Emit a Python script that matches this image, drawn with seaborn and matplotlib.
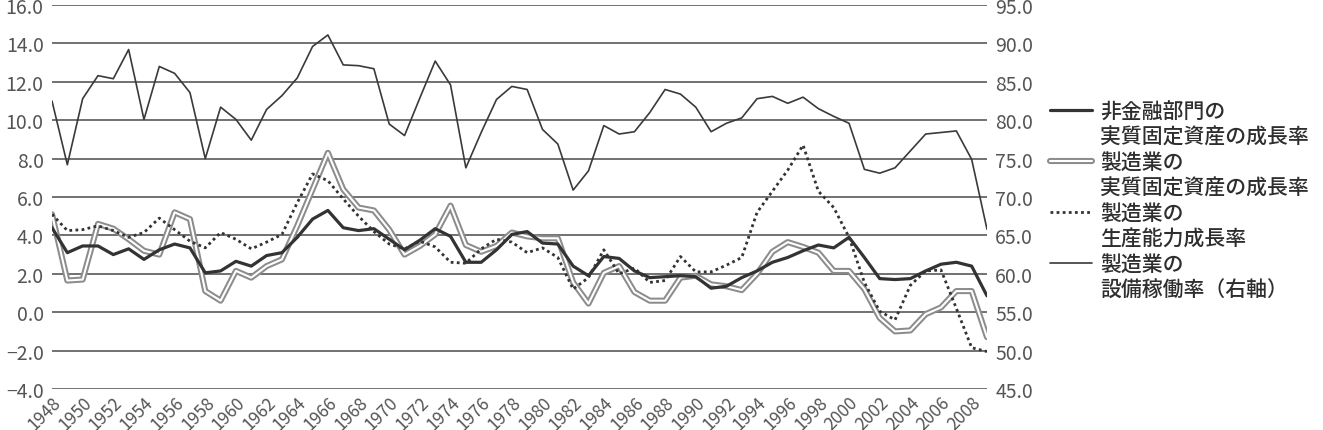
import numpy as np
import pandas as pd
import seaborn as sns
import matplotlib.pyplot as plt
import matplotlib.patheffects as pe
from matplotlib.lines import Line2D
from matplotlib.ticker import FuncFormatter

# 年次データ (1948-2009)
years = list(range(1948, 2010))

# 非金融部門の実質固定資産の成長率 (左軸)
nonfin_assets = [4.4, 3.1, 3.45, 3.45, 3.0, 3.3, 2.75, 3.25, 3.55, 3.35,
                 2.05, 2.15, 2.65, 2.4, 2.95, 3.1, 3.9, 4.85, 5.3, 4.4,
                 4.25, 4.35, 3.8, 3.25, 3.75, 4.35, 3.95, 2.6, 2.6, 3.25,
                 4.05, 4.2, 3.6, 3.55, 2.4, 1.9, 2.9, 2.8, 2.15, 1.8,
                 1.85, 1.9, 1.85, 1.25, 1.35, 1.8, 2.15, 2.6, 2.85, 3.2,
                 3.5, 3.35, 3.9, 2.85, 1.75, 1.7, 1.75, 2.15, 2.5, 2.6,
                 2.4, 0.85]

# 製造業の実質固定資産の成長率 (左軸)
mfg_assets = [5.1, 1.65, 1.7, 4.6, 4.35, 3.8, 3.2, 3.0, 5.2, 4.85,
              1.1, 0.6, 2.15, 1.8, 2.4, 2.75, 4.5, 6.4, 8.3, 6.4,
              5.45, 5.3, 4.3, 3.0, 3.45, 4.05, 5.55, 3.5, 3.15, 3.45,
              4.15, 3.95, 3.85, 3.85, 1.55, 0.45, 2.05, 2.4, 1.05, 0.6,
              0.6, 1.8, 1.9, 1.45, 1.35, 1.15, 2.0, 3.15, 3.65, 3.4,
              3.1, 2.15, 2.15, 1.2, -0.3, -1.0, -0.95, -0.1, 0.25, 1.1,
              1.1, -1.3]

# 製造業の生産能力成長率 (左軸)
mfg_capacity = [5.1, 4.25, 4.3, 4.5, 4.25, 3.9, 4.15, 4.9, 4.3, 3.7,
                3.35, 4.15, 3.8, 3.3, 3.65, 4.05, 5.7, 7.2, 6.85, 5.9,
                5.0, 4.2, 3.55, 3.3, 3.7, 3.4, 2.6, 2.55, 3.3, 3.8,
                3.65, 3.1, 3.35, 2.85, 1.2, 1.8, 3.25, 2.0, 2.3, 1.55,
                1.65, 2.9, 2.1, 2.1, 2.45, 2.85, 5.2, 6.3, 7.4, 8.7,
                6.3, 5.45, 3.9, 1.55, 0.05, -0.4, 1.4, 2.15, 2.2, 0.2,
                -1.85, -2.05]

# 製造業の設備稼働率 (右軸)
utilization = [82.5, 74.2, 82.8, 85.8, 85.4, 89.2, 80.1, 87.0, 86.1, 83.6,
               75.0, 81.7, 80.1, 77.4, 81.4, 83.2, 85.5, 89.6, 91.1, 87.2,
               87.1, 86.7, 79.5, 78.0, 82.9, 87.7, 84.6, 73.8, 78.4, 82.7,
               84.4, 84.0, 78.8, 76.9, 70.9, 73.4, 79.3, 78.2, 78.5, 81.0,
               84.0, 83.4, 81.7, 78.5, 79.6, 80.3, 82.8, 83.1, 82.2, 83.0,
               81.5, 80.5, 79.6, 73.6, 73.1, 73.8, 76.0, 78.2, 78.4, 78.6,
               74.9, 65.8]

labels = [['非金融部門の', '実質固定資産の成長率'],
          ['製造業の', '実質固定資産の成長率'],
          ['製造業の', '生産能力成長率'],
          ['製造業の', '設備稼働率（右軸）']]

df = pd.DataFrame({'year': years, 'nonfin': nonfin_assets, 'mfg_assets': mfg_assets,
                   'mfg_capacity': mfg_capacity, 'util': utilization})

sns.set_style('white')
plt.rcParams['font.family'] = ['Noto Sans CJK JP', 'DejaVu Sans']

text_color = '#555555'
grid_color = '#4a4a4a'

fig = plt.figure(figsize=(13.23, 4.31), dpi=100)
ax = fig.add_axes([52 / 1323, 41 / 431, 935 / 1323, 384 / 431])
ax2 = ax.twinx()

double_fx = [pe.Stroke(linewidth=4.4, foreground='#8c8c8c'), pe.Normal()]
styles = [dict(color='#333333', lw=2.3),
          dict(color='white', lw=1.5, path_effects=double_fx),
          dict(color='#333333', lw=2.0, linestyle=(0, (1, 1.2))),
          dict(color='#3a3a3a', lw=1.2)]

sns.lineplot(data=df, x='year', y='nonfin', ax=ax, zorder=4, **styles[0])
sns.lineplot(data=df, x='year', y='mfg_assets', ax=ax, zorder=3, **styles[1])
sns.lineplot(data=df, x='year', y='mfg_capacity', ax=ax, zorder=3.5, **styles[2])
sns.lineplot(data=df, x='year', y='util', ax=ax2, **styles[3])

# 軸
ax.set_xlim(1948, 2009)
ax.set_ylim(-4, 16)
ax2.set_ylim(45, 95)
ax.set_yticks(np.arange(-4, 16.1, 2))
ax2.set_yticks(np.arange(45, 95.1, 5))
fmt = FuncFormatter(lambda v, p: f'{v:.1f}'.replace('-', '−'))
ax.yaxis.set_major_formatter(fmt)
ax2.yaxis.set_major_formatter(fmt)
ax.set_xticks(range(1948, 2009, 2))
ax.set_xticklabels([str(y) for y in range(1948, 2009, 2)], rotation=45,
                   ha='right', va='top', rotation_mode='anchor')

ax.grid(axis='y', color=grid_color, lw=1.1)
ax.grid(axis='x', visible=False)
ax.set_axisbelow(True)
for a in (ax, ax2):
    a.set_xlabel('')
    a.set_ylabel('')
    for s in a.spines.values():
        s.set_visible(False)
    a.tick_params(length=0, labelsize=14, labelcolor=text_color)
ax.tick_params(axis='y', pad=6)
ax2.tick_params(axis='y', pad=6)
ax.tick_params(axis='x', pad=3, labelsize=12.5)

# 凡例 (ハンドルは1行目に揃える)
handles, texts = [], []
blank = Line2D([], [], color='none')
for st, lab in zip(styles, labels):
    handles += [Line2D([], [], **st), blank]
    texts += lab
fig.legend(handles, texts, loc='center left', bbox_to_anchor=(1050 / 1323, 0.532),
           frameon=False, prop={'size': 15, 'weight': 'medium'}, labelspacing=0.17,
           handlelength=2.0, handletextpad=0.4, borderpad=0, borderaxespad=0,
           labelcolor='#2e2e2e')

fig.savefig('out.png', dpi=100)
